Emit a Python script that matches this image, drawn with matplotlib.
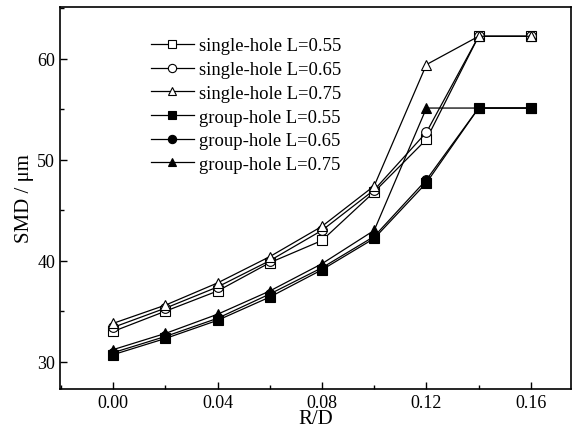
import numpy as np
import matplotlib.pyplot as plt
from matplotlib.ticker import MultipleLocator

plt.rcParams['font.family'] = ['Liberation Serif', 'DejaVu Serif']

# R/D positions
rd = [0.00, 0.02, 0.04, 0.06, 0.08, 0.10, 0.12, 0.14, 0.16]

# SMD values (um)
single_055 = [33.0, 35.0, 37.0, 39.8, 42.0, 46.8, 52.0, 62.2, 62.2]
single_065 = [33.4, 35.3, 37.4, 40.0, 43.0, 47.0, 52.7, 62.2, 62.2]
single_075 = [33.8, 35.6, 37.8, 40.4, 43.4, 47.4, 59.4, 62.2, 62.2]
group_055 = [30.7, 32.3, 34.1, 36.4, 39.1, 42.2, 47.7, 55.1, 55.1]
group_065 = [30.9, 32.5, 34.3, 36.7, 39.3, 42.4, 48.0, 55.1, 55.1]
group_075 = [31.2, 32.8, 34.7, 37.0, 39.7, 43.0, 55.1, 55.1, 55.1]

labels = ['single-hole L=0.55', 'single-hole L=0.65', 'single-hole L=0.75',
          'group-hole L=0.55', 'group-hole L=0.65', 'group-hole L=0.75']
series = [single_055, single_065, single_075, group_055, group_065, group_075]
markers = ['s', 'o', '^', 's', 'o', '^']
faces = ['white', 'white', 'white', 'black', 'black', 'black']

fig = plt.figure(figsize=(5.74, 4.39), dpi=100)
ax = fig.add_axes([0.1045, 0.1116, 0.8903, 0.8702])

for y, lab, m, fc in zip(series, labels, markers, faces):
    ax.plot(rd, y, color='black', linewidth=0.9, marker=m, markersize=7,
            markerfacecolor=fc, markeredgecolor='black', markeredgewidth=0.8,
            label=lab)

ax.set_xlim(-0.0204, 0.1754)
ax.set_ylim(27.3, 65.1)
ax.xaxis.set_major_locator(MultipleLocator(0.04))
ax.xaxis.set_minor_locator(MultipleLocator(0.02))
ax.yaxis.set_major_locator(MultipleLocator(10))
ax.yaxis.set_minor_locator(MultipleLocator(5))
ax.xaxis.set_major_formatter(plt.FormatStrFormatter('%.2f'))
ax.tick_params(which='both', direction='in', top=False, right=False,
               labelsize=13)
ax.tick_params(which='major', length=5, width=1)
ax.tick_params(which='minor', length=3, width=1)
for s in ax.spines.values():
    s.set_linewidth(1.2)

ax.set_xlabel('R/D', fontsize=15, labelpad=-1)
ax.set_ylabel('SMD / \u03bcm', fontsize=15, labelpad=2)

leg = ax.legend(loc='upper left', bbox_to_anchor=(0.16, 0.945), frameon=False,
                fontsize=13.4, handlelength=2.3, handletextpad=0.3,
                labelspacing=0.36, borderpad=0, markerscale=0.85)

fig.savefig('out.png', dpi=100)
